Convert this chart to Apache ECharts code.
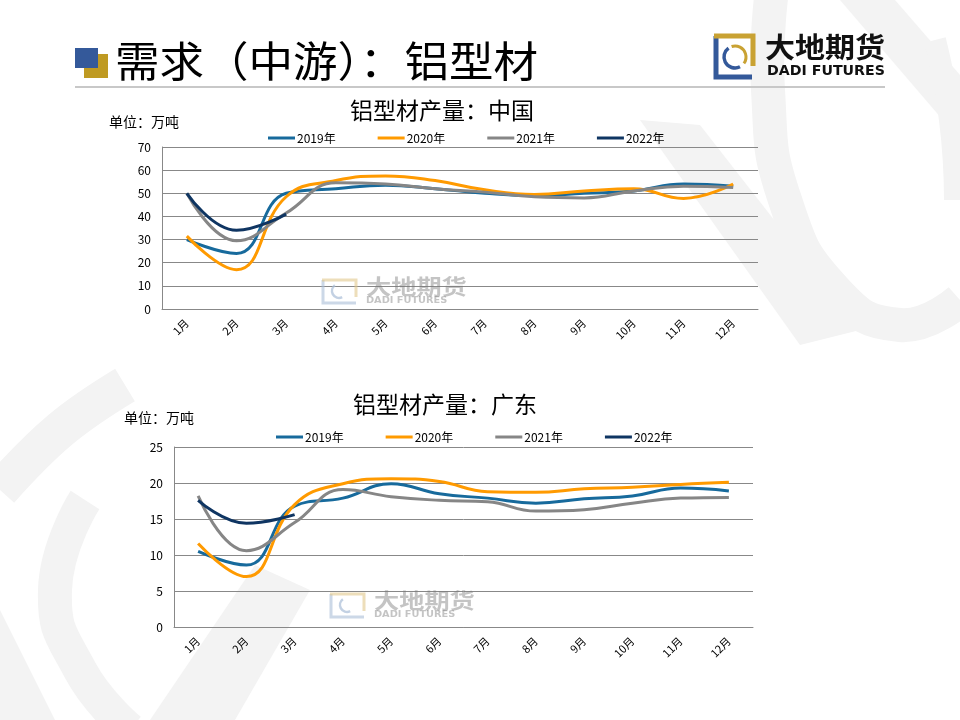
<!DOCTYPE html>
<html>
<head>
<meta charset="utf-8">
<script src="https://cdn.jsdelivr.net/npm/echarts@6/dist/echarts.min.js"></script>
<style>
html,body{margin:0;padding:0;background:#fff;}
#c{width:960px;height:720px;}
</style>
</head>
<body>
<div id="c"></div>
<script>
var months = ['1月','2月','3月','4月','5月','6月','7月','8月','9月','10月','11月','12月'];
var seriesNames = ['2019年','2020年','2021年','2022年'];
var colors = ['#176A9C','#FF9A00','#868686','#0F3562'];

// 中国 (万吨)
var cn2019 = [30, 24, 50, 52, 53.5, 52, 50, 49, 50, 51, 54, 53];
var cn2020 = [31.5, 17, 48.5, 55.5, 57.5, 55.5, 51.5, 49.5, 51, 52, 47.8, 54];
var cn2021 = [50, 29.5, 41.5, 54.5, 54, 52, 50.5, 48.5, 48, 51, 53, 52.5];
var cn2022 = [50, 34, 41];

// 广东 (万吨)
var gd2019 = [10.5, 8.6, 16.8, 17.9, 19.9, 18.5, 17.9, 17.2, 17.8, 18.2, 19.3, 18.9];
var gd2020 = [11.6, 7, 17, 19.9, 20.6, 20.2, 18.8, 18.7, 19.2, 19.4, 19.8, 20.1];
var gd2021 = [18.2, 10.6, 14.5, 19.1, 18.1, 17.6, 17.4, 16.1, 16.3, 17.2, 17.9, 18];
var gd2022 = [17.6, 14.4, 15.6];

var cnData = [cn2019, cn2020, cn2021, cn2022];
var gdData = [gd2019, gd2020, gd2021, gd2022];

var chart = echarts.init(document.getElementById('c'), null, {renderer:'canvas'});
var FONT = 'Noto Sans CJK SC';

function mkSeries(dataSets, gi){
  return dataSets.map(function(d,i){
    return {
      name: seriesNames[i], type:'line', xAxisIndex:gi, yAxisIndex:gi,
      data:d, smooth:0.45, symbol:'none',
      lineStyle:{width:3, color:colors[i]}, itemStyle:{color:colors[i]}, z:5
    };
  });
}

function xAx(gi){
  return {type:'category', gridIndex:gi, data:months, boundaryGap:true,
    axisLine:{lineStyle:{color:'#888', width:1}}, axisTick:{show:false},
    axisLabel:{rotate:45, color:'#000', fontSize:11, fontFamily:FONT, margin:12}};
}
function yAx(gi, max, itv){
  return {type:'value', gridIndex:gi, min:0, max:max, interval:itv,
    axisLine:{show:true, lineStyle:{color:'#888', width:1}}, axisTick:{show:false},
    splitLine:{lineStyle:{color:'#888', width:1}},
    axisLabel:{color:'#000', fontSize:12, fontFamily:FONT, margin:11}};
}

var BG = '#f3f3f3';
var bgShapes = [
  // top right
  {type:'polyline', shape:{points:[[772,-10],[768,90],[785,200],[835,290],[900,325],[960,300]], smooth:0.5}, style:{stroke:BG, lineWidth:34, fill:null}, z:-10},
  {type:'polygon', shape:{points:[[640,120],[700,125],[860,330],[800,345]]}, style:{fill:BG}, z:-10},
  {type:'polygon', shape:{points:[[840,0],[895,0],[960,75],[960,140]]}, style:{fill:BG}, z:-10},
  {type:'polyline', shape:{points:[[935,40],[950,120],[955,200]], smooth:0.5}, style:{stroke:BG, lineWidth:22, fill:null}, z:-10},
  // bottom left
  {type:'polyline', shape:{points:[[125,385],[60,430],[0,490]], smooth:0.4}, style:{stroke:BG, lineWidth:38, fill:null}, z:-10},
  {type:'polyline', shape:{points:[[85,500],[55,590],[80,670],[130,730]], smooth:0.5}, style:{stroke:BG, lineWidth:34, fill:null}, z:-10},
  {type:'polygon', shape:{points:[[150,720],[235,720],[310,590],[255,565]]}, style:{fill:BG}, z:-10},
  {type:'polygon', shape:{points:[[0,610],[0,720],[55,720]]}, style:{fill:BG}, z:-10}
];

var header = [
  {type:'rect', shape:{x:84, y:54, width:24, height:24}, style:{fill:'#BF9A22'}},
  {type:'rect', shape:{x:75, y:48, width:23, height:20}, style:{fill:'#34599A'}},
  {type:'text', x:115, y:40, scaleX:1.06, style:{text:'需求（中游）：铝型材', font:'normal 42px "Noto Sans CJK SC"', fill:'#000'}},
  {type:'line', shape:{x1:75, y1:87, x2:885, y2:87}, style:{stroke:'#c8c8c8', lineWidth:2}},
  // logo
  {type:'polyline', shape:{points:[[716,36],[716,77],[752,77]]}, style:{stroke:'#34599A', lineWidth:5, fill:null}},
  {type:'polyline', shape:{points:[[714,36],[753,36],[753,66]]}, style:{stroke:'#C9A233', lineWidth:5, fill:null}},
  {type:'arc', shape:{cx:735, cy:57, r:11, startAngle:Math.PI*0.35, endAngle:Math.PI*1.3}, style:{stroke:'#34599A', lineWidth:3.5, fill:null}},
  {type:'arc', shape:{cx:735, cy:57, r:11, startAngle:Math.PI*1.4, endAngle:Math.PI*0.2}, style:{stroke:'#C9A233', lineWidth:3, fill:null}},
  {type:'text', x:765, y:33, scaleX:1.07, style:{text:'大地期货', font:'bold 28px "Noto Sans CJK SC"', fill:'#111'}},
  {type:'text', x:767, y:64, scaleX:1.05, style:{text:'DADI FUTURES', font:'bold 13.5px "DejaVu Sans"', fill:'#111'}}
];

var wm = function(x,y){
  return [
    {type:'polyline', shape:{points:[[x+3,y+1],[x+3,y+24],[x+36,y+24]]}, style:{stroke:'rgba(170,190,215,0.6)', lineWidth:3, fill:null}, z:1},
    {type:'polyline', shape:{points:[[x+2,y+1],[x+36,y+1],[x+36,y+18]]}, style:{stroke:'rgba(225,200,140,0.6)', lineWidth:3, fill:null}, z:1},
    {type:'arc', shape:{cx:x+19, cy:y+12, r:7, startAngle:Math.PI*0.35, endAngle:Math.PI*1.3}, style:{stroke:'rgba(170,190,215,0.7)', lineWidth:2.5, fill:null}, z:1},
    {type:'text', x:x+46, y:y-3, scaleX:1.2, style:{text:'大地期货', font:'bold 21px "Noto Sans CJK SC"', fill:'rgba(125,125,125,0.45)'}, z:1},
    {type:'text', x:x+46, y:y+17, scaleX:1.15, style:{text:'DADI FUTURES', font:'bold 8.5px "DejaVu Sans"', fill:'rgba(125,125,125,0.45)'}, z:1}
  ];
};

var texts = [
  {type:'text', x:442, y:99, style:{text:'铝型材产量：中国', font:'normal 23px "Noto Sans CJK SC"', fill:'#000', textAlign:'center'}},
  {type:'text', x:109, y:115, style:{text:'单位：万吨', font:'normal 14px "Noto Sans CJK SC"', fill:'#000'}},
  {type:'text', x:445, y:393, style:{text:'铝型材产量：广东', font:'normal 23px "Noto Sans CJK SC"', fill:'#000', textAlign:'center'}},
  {type:'text', x:124, y:411, style:{text:'单位：万吨', font:'normal 14px "Noto Sans CJK SC"', fill:'#000'}}
];

chart.setOption({
  backgroundColor:'#fff',
  animation:false,
  color:colors,
  textStyle:{fontFamily:FONT},
  legend:[
    {data:seriesNames, left:263, top:127, itemGap:42, itemWidth:27, itemHeight:3, icon:'rect',
     textStyle:{fontSize:12, color:'#000', fontFamily:FONT, padding:[0,0,0,-3]}},
    {data:seriesNames, left:271, top:426, itemGap:42, itemWidth:27, itemHeight:3, icon:'rect',
     textStyle:{fontSize:12, color:'#000', fontFamily:FONT, padding:[0,0,0,-3]}}
  ],
  grid:[
    {left:162, top:147, width:596, height:162},
    {left:174, top:447, width:579, height:180}
  ],
  xAxis:[xAx(0), xAx(1)],
  yAxis:[yAx(0,70,10), yAx(1,25,5)],
  graphic:{elements: bgShapes.concat(header, wm(320,279), wm(328,593), texts)},
  series: mkSeries(cnData,0).concat(mkSeries(gdData,1))
});
</script>
</body>
</html>
